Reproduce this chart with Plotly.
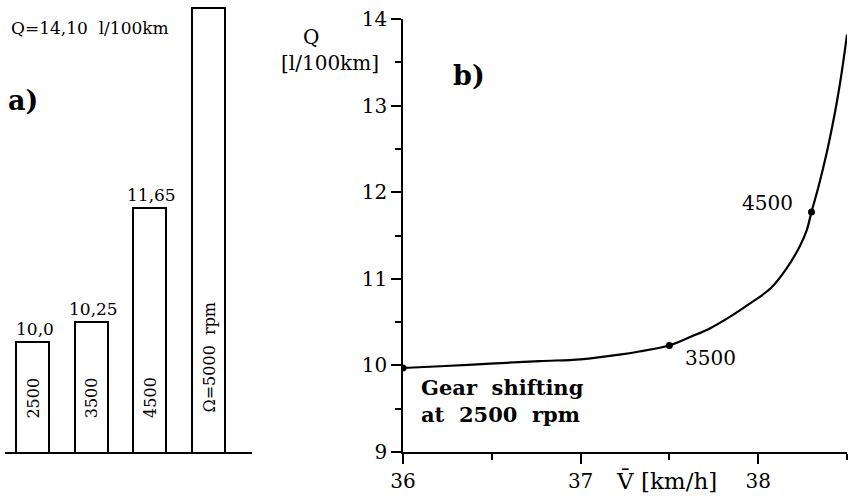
import plotly.graph_objects as go

# Panel a: fuel consumption at gear shifting speed
shift_rpm = ["2500", "3500", "4500", "\u03a9=5000  rpm"]
fuel_q = [10.0, 10.25, 11.65, 14.10]

# Panel b: fuel consumption versus mean speed
speed_v = [36.0, 36.21, 36.49, 36.77, 37.0, 37.24, 37.33, 37.5, 37.62, 37.73,
           37.84, 37.95, 38.07, 38.16, 38.235, 38.273, 38.3, 38.339, 38.382,
           38.414, 38.442, 38.47, 38.5]
fuel_curve = [9.97, 9.99, 10.02, 10.05, 10.07, 10.13, 10.16, 10.23, 10.33, 10.43,
              10.56, 10.71, 10.89, 11.12, 11.38, 11.56, 11.77, 12.06, 12.42,
              12.73, 13.03, 13.38, 13.82]
point_v = [36.0, 37.5, 38.3]
point_q = [9.97, 10.23, 11.77]
point_text = ["3500", "4500"]

FONT = "DejaVu Serif"
W, H = 850, 496


def px(x):
    return x / W


def py(y):
    return (H - y) / H


def fmt(v, nd):
    return f"{v:.{nd}f}".replace(".", ",")


fig = go.Figure()

fig.add_trace(go.Bar(
    x=list(range(len(fuel_q))), y=fuel_q, width=0.56,
    marker=dict(color="white", line=dict(color="black", width=2)),
    xaxis="x", yaxis="y", hoverinfo="skip", showlegend=False,
))

fig.add_trace(go.Scatter(
    x=speed_v, y=fuel_curve, mode="lines",
    line=dict(color="black", width=2.2, shape="spline", smoothing=1.0),
    xaxis="x2", yaxis="y2", showlegend=False,
))
fig.add_trace(go.Scatter(
    x=point_v, y=point_q, mode="markers",
    marker=dict(color="black", size=7),
    xaxis="x2", yaxis="y2", showlegend=False,
))

bottom = py(452)
axis_common = dict(showgrid=False, zeroline=False, color="black")

fig.update_layout(
    width=W, height=H,
    margin=dict(l=0, r=0, t=0, b=0, autoexpand=False),
    paper_bgcolor="white", plot_bgcolor="white",
    font=dict(family=FONT, color="black"),
    showlegend=False,
    bargap=0,
    xaxis=dict(domain=[px(5), px(252)], range=[-0.47, 3.74], anchor="y",
               showline=True, linewidth=2, linecolor="black",
               showticklabels=False, ticks="", **axis_common),
    yaxis=dict(domain=[bottom, 1.0], range=[8.65, 8.65 + 452 / 81.5],
               anchor="x", visible=False, **axis_common),
    xaxis2=dict(domain=[px(403), px(847)], range=[36, 38.5], anchor="y2",
                tickvals=[36, 37, 38], ticks="outside", ticklen=10, tickwidth=1.5,
                minor=dict(dtick=0.5, tick0=36, ticks="outside", ticklen=6, tickwidth=1.5),
                showline=True, linewidth=1.5, linecolor="black",
                tickfont=dict(family=FONT, size=20), **axis_common),
    yaxis2=dict(domain=[bottom, py(19)], range=[9, 14], anchor="x2",
                dtick=1, ticks="outside", ticklen=10, tickwidth=1.5,
                minor=dict(dtick=0.5, tick0=9, ticks="outside", ticklen=6, tickwidth=1.5),
                showline=True, linewidth=1.5, linecolor="black",
                tickfont=dict(family=FONT, size=20), **axis_common),
    xaxis3=dict(overlaying="x2", side="top", anchor="y2", range=[36, 38.5],
                tickvals=[36.5, 37, 37.5, 38], ticks="inside", ticklen=6, tickwidth=1.5,
                showticklabels=False, showline=True, linewidth=1.5,
                linecolor="black", **axis_common),
    yaxis3=dict(overlaying="y2", side="right", anchor="x2", range=[9, 14],
                tickvals=[9.5, 10, 10.5, 11, 11.5, 12, 12.5, 13, 13.5],
                ticks="inside", ticklen=6, tickwidth=1.5,
                showticklabels=False, showline=True, linewidth=1.5,
                linecolor="black", **axis_common),
)

ann = []
# values above the first three bars
for i, (v, nd) in enumerate(zip(fuel_q[:3], [1, 2, 2])):
    ann.append(dict(x=i, y=v, xref="x", yref="y", text=fmt(v, nd),
                    xanchor="center", yanchor="bottom", yshift=1, xshift=2,
                    showarrow=False, font=dict(size=17)))
# value of the tallest bar, written at the top left
ann.append(dict(x=px(9), y=py(28), xref="paper", yref="paper",
                text=f"Q={fmt(fuel_q[3], 2)}  l/100km",
                xanchor="left", yanchor="middle", showarrow=False,
                font=dict(size=17)))
# rotated engine speeds inside the bars
for i, (lab, yc) in enumerate(zip(shift_rpm, [398, 398, 397, 357])):
    ann.append(dict(x=i, y=py(yc), xref="x", yref="paper", text=lab,
                    textangle=-90, xanchor="center", yanchor="middle",
                    showarrow=False, font=dict(size=16)))
ann.append(dict(x=px(6), y=py(100), xref="paper", yref="paper", text="<b>a)</b>",
                xanchor="left", yanchor="middle", showarrow=False,
                font=dict(size=27)))
ann.append(dict(x=px(451), y=py(75), xref="paper", yref="paper", text="<b>b)</b>",
                xanchor="left", yanchor="middle", showarrow=False,
                font=dict(size=27)))
# axis titles
ann.append(dict(x=px(311), y=py(37), xref="paper", yref="paper", text="Q",
                xanchor="center", yanchor="middle", showarrow=False,
                font=dict(size=20)))
ann.append(dict(x=px(381), y=py(63), xref="paper", yref="paper", text="[l/100km]",
                xanchor="right", yanchor="middle", showarrow=False,
                font=dict(size=20)))
ann.append(dict(x=px(614), y=py(481), xref="paper", yref="paper",
                text="V\u0304 [km/h]", xanchor="left", yanchor="middle",
                showarrow=False, font=dict(size=23)))
# curve point labels
ann.append(dict(x=point_v[1], y=point_q[1], xref="x2", yref="y2", text=point_text[0],
                xanchor="left", yanchor="middle", xshift=14, yshift=-13,
                showarrow=False, font=dict(size=20)))
ann.append(dict(x=point_v[2], y=point_q[2], xref="x2", yref="y2", text=point_text[1],
                xanchor="right", yanchor="middle", xshift=-16, yshift=9,
                showarrow=False, font=dict(size=20)))
ann.append(dict(x=px(419), y=py(401), xref="paper", yref="paper",
                text="<b>Gear  shifting<br>at  2500  rpm</b>",
                xanchor="left", yanchor="middle", align="left",
                showarrow=False, font=dict(size=21)))
fig.update_layout(annotations=ann)

fig.write_html("out.html")
